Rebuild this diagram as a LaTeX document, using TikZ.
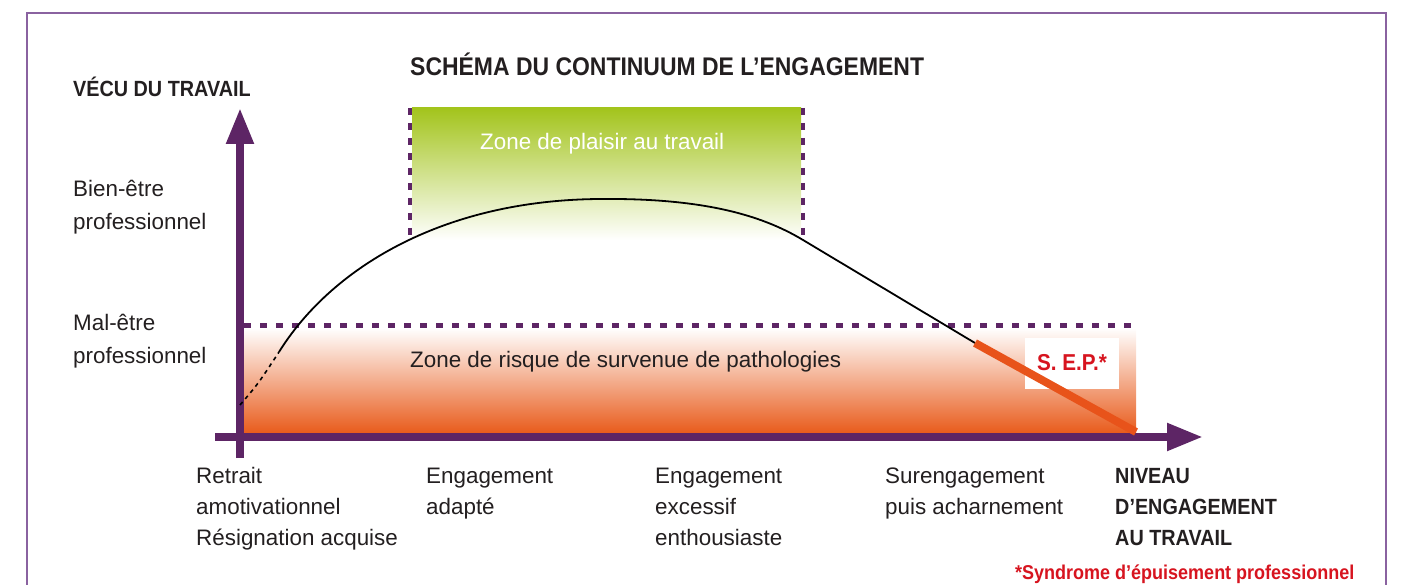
\documentclass[tikz,border=0pt]{standalone}
\usepackage{fontspec}
\setmainfont{Liberation Sans}
\newfontfamily\cbold[FakeStretch=0.9]{Liberation Sans}
\usetikzlibrary{arrows.meta}
\definecolor{framec}{HTML}{8A62A0}
\definecolor{axisc}{HTML}{5D2565}
\definecolor{greenz}{HTML}{A3C41C}
\definecolor{orangez}{HTML}{E85A1A}
\definecolor{sepline}{HTML}{E8531A}
\definecolor{redt}{HTML}{D7141F}
\definecolor{txt}{HTML}{231F20}
\begin{document}
\begin{tikzpicture}[x=1pt,y=-1pt,
  lbl/.style={inner sep=0pt, anchor=base west, text=txt, font=\fontsize{22.4}{26}\selectfont},
  blbl/.style={inner sep=0pt, anchor=base west, text=txt, font=\fontsize{22}{26}\selectfont\cbold\bfseries},
  axisline/.style={draw=axisc, line width=8pt, -{Triangle[length=36pt,width=26pt]}},
  zonedash/.style={draw=axisc, line width=5pt, dash pattern=on 7pt off 9pt},
  vdash/.style={draw=axisc, line width=4pt, dash pattern=on 7pt off 8pt},
  curve/.style={draw=black, line width=1.8pt}
]
\useasboundingbox (0,0) rectangle (1401,585);
% frame
\draw[framec, line width=1.5pt] (27,585) -- (27,13) -- (1386,13) -- (1386,585);
% zones
\shade[top color=greenz, bottom color=white] (412,108) rectangle (801,240);
\shade[top color=white, bottom color=orangez] (243,328) rectangle (1136,434);
% dashed borders
\draw[vdash] (410,108) -- (410,240);
\draw[vdash] (803,108) -- (803,240);
\draw[zonedash] (244,326) -- (1136,326);
% axes
\coordinate (vb) at (240,458);
\coordinate (vt) at (240,108);
\coordinate (hl) at (215,437);
\coordinate (hr) at (1203,437);
\draw[axisline] (vb) -- (vt);
\draw[axisline] (hl) -- (hr);
% curve
\coordinate (c0) at (240,405);
\coordinate (c1) at (279,352);
\coordinate (cp) at (600,199);
\coordinate (c2) at (803,240);
\coordinate (c3) at (975,343);
\coordinate (c4) at (1136,432);
\draw[curve, line width=1.6pt, dash pattern=on 4pt off 4pt] (c0) .. controls (258,384) .. (c1);
\draw[curve] (c1) .. controls (330,270) and (440,200) .. (cp) .. controls (700,198) and (760,214) .. (c2) -- (c3);
% SEP box
\node[fill=white, minimum width=94pt, minimum height=51pt, inner sep=0pt] (sepbox) at (1072,363.5) {};
\draw[sepline, line width=8pt] (c3) -- (c4);
\node[text=redt, font=\fontsize{23}{26}\selectfont\cbold\bfseries, inner sep=0pt] (sep) at (1072,363) {S. E.P.*};
% titles
\node[blbl, font=\fontsize{25.5}{30}\selectfont\cbold\bfseries] (title) at (410,76) {SCHÉMA DU CONTINUUM DE L’ENGAGEMENT};
\node[blbl] (vecu) at (73,97) {VÉCU DU TRAVAIL};
% zone labels
\node[lbl, text=white] (plaisir) at (480,150) {Zone de plaisir au travail};
\node[lbl] (risque) at (410,368) {Zone de risque de survenue de pathologies};
% left labels
\node[lbl] (bien1) at (73,197) {Bien-être};
\node[lbl] (bien2) at (73,230) {professionnel};
\node[lbl] (mal1) at (73,331) {Mal-être};
\node[lbl] (mal2) at (73,364) {professionnel};
% bottom labels
\node[lbl] (ret1) at (196,483) {Retrait};
\node[lbl] (ret2) at (196,514) {amotivationnel};
\node[lbl] (ret3) at (196,545) {Résignation acquise};
\node[lbl] (ad1) at (426,483) {Engagement};
\node[lbl] (ad2) at (426,514) {adapté};
\node[lbl] (ex1) at (655,483) {Engagement};
\node[lbl] (ex2) at (655,514) {excessif};
\node[lbl] (ex3) at (655,545) {enthousiaste};
\node[lbl] (sur1) at (885,483) {Surengagement};
\node[lbl] (sur2) at (885,514) {puis acharnement};
\node[blbl] (niv1) at (1115,483) {NIVEAU};
\node[blbl] (niv2) at (1115,514) {D’ENGAGEMENT};
\node[blbl] (niv3) at (1115,545) {AU TRAVAIL};
\node[blbl, text=redt, font=\fontsize{20}{24}\selectfont\cbold\bfseries] (foot) at (1015,579) {*Syndrome d’épuisement professionnel};
\end{tikzpicture}
\end{document}
